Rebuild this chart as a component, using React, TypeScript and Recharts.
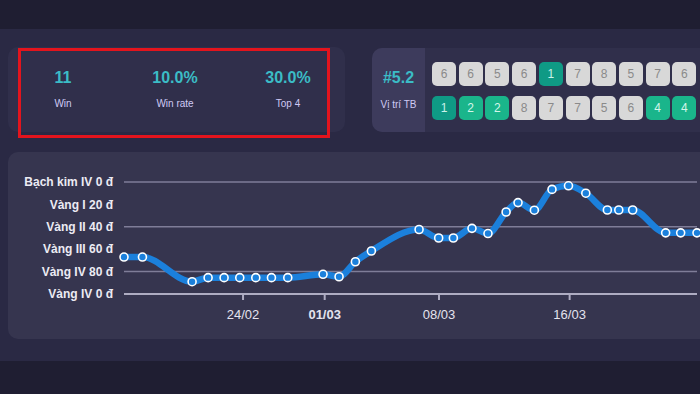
import { LineChart, Line, XAxis, YAxis, CartesianGrid } from 'recharts';

// tóm tắt
const statValues = ['11', '10.0%', '30.0%'];
const statLabels = ['Win', 'Win rate', 'Top 4'];
const avgPlace = '#5.2';
const avgPlaceLabel = 'Vị trí TB';
const placementsRow1 = [6, 6, 5, 6, 1, 7, 8, 5, 7, 6];
const placementsRow2 = [1, 2, 2, 8, 7, 7, 5, 6, 4, 4];

// lịch sử rank: ngày tính từ 24/02, giá trị = bậc trên trục y
const matchDays = [
  -7.29, -6.16, -3.12, -2.14, -1.16, -0.2, 0.78, 1.74, 2.74, 4.9,
  5.88, 6.88, 7.86, 10.78, 11.98, 12.88, 14.02, 15.0, 16.11, 16.84,
  17.84, 18.92, 19.93, 20.99, 22.31, 23.01, 23.86, 25.88, 26.8, 27.8,
];
const tierValues = [
  1.65, 1.65, 0.55, 0.73, 0.73, 0.73, 0.73, 0.73, 0.73, 0.88,
  0.77, 1.44, 1.92, 2.88, 2.5, 2.5, 2.93, 2.7, 3.66, 4.08,
  3.74, 4.67, 4.83, 4.5, 3.75, 3.75, 3.75, 2.73, 2.73, 2.73,
];
const yTickValues = [0, 1, 2, 3, 4, 5];
const yTickLabels = ['Vàng IV 0 đ', 'Vàng IV 80 đ', 'Vàng III 60 đ', 'Vàng II 40 đ', 'Vàng I 20 đ', 'Bạch kim IV 0 đ'];
const xTickDays = [0, 5, 12, 20];
const xTickLabels = ['24/02', '01/03', '08/03', '16/03'];
const monthStartTicks = ['01/03'];

const data = matchDays.map((day, i) => ({ day, tier: tierValues[i] }));

const TEAL = '#3bbcc6';
const LINE_BLUE = '#1b80dc';

const boxColor = (p: number) => {
  if (p === 1) return { bg: '#0f9a85', fg: '#c9f2ea' };
  if (p <= 4) return { bg: '#1ab58b', fg: '#d4f5ea' };
  return { bg: '#d8d8d8', fg: '#8a8a8a' };
};

const XTick = (props: any) => {
  const { x, y, payload } = props;
  const label = xTickLabels[xTickDays.indexOf(payload.value)] ?? '';
  return (
    <text
      x={x}
      y={y}
      dy="0.71em"
      textAnchor="middle"
      fill="#e4e3ee"
      fontSize={13}
      fontWeight={monthStartTicks.includes(label) ? 700 : 400}
    >
      {label}
    </text>
  );
};

const PlacementRow = ({ row, top }: { row: number[]; top: number }) => (
  <>
    {row.map((p, i) => {
      const c = boxColor(p);
      return (
        <div
          key={i}
          style={{
            position: 'absolute',
            left: 432 + i * 26.7,
            top,
            width: 24,
            height: 24,
            borderRadius: 5,
            background: c.bg,
            color: c.fg,
            fontSize: 12,
            lineHeight: '24px',
            textAlign: 'center',
          }}
        >
          {p}
        </div>
      );
    })}
  </>
);

const App = () => {
  const statCenters = [63, 175, 288];
  return (
    <div
      style={{
        position: 'fixed',
        left: 0,
        top: 0,
        width: 700,
        height: 394,
        overflow: 'hidden',
        background: '#2a2944',
        fontFamily: '"Liberation Sans", Arial, sans-serif',
      }}
    >
      {/* dải trên / dưới */}
      <div style={{ position: 'absolute', left: 0, top: 0, width: 700, height: 29, background: '#1f1e32' }} />
      <div style={{ position: 'absolute', left: 0, top: 361, width: 700, height: 33, background: '#1f1e32' }} />

      {/* thẻ thống kê */}
      <div style={{ position: 'absolute', left: 8, top: 47, width: 337, height: 85, borderRadius: 10, background: '#302f4b' }} />
      {statValues.map((v, i) => (
        <div key={v} style={{ position: 'absolute', left: statCenters[i] - 50, width: 100, textAlign: 'center', top: 0 }}>
          <div style={{ position: 'absolute', top: 69, width: 100, color: TEAL, fontSize: 16, fontWeight: 700 }}>{v}</div>
          <div style={{ position: 'absolute', top: 98, width: 100, color: '#cfcaf5', fontSize: 10 }}>{statLabels[i]}</div>
        </div>
      ))}
      <div
        style={{
          position: 'absolute',
          left: 18,
          top: 48,
          width: 306,
          height: 84,
          border: '3px solid #e3141d',
        }}
      />

      {/* vị trí trung bình */}
      <div style={{ position: 'absolute', left: 372, top: 48, width: 340, height: 84, borderRadius: 10, background: '#302f4b' }} />
      <div style={{ position: 'absolute', left: 372, top: 48, width: 53, height: 84, borderRadius: '10px 0 0 10px', background: '#3d3b5c' }} />
      <div style={{ position: 'absolute', left: 372, top: 69, width: 53, textAlign: 'center', color: TEAL, fontSize: 16, fontWeight: 700 }}>
        {avgPlace}
      </div>
      <div style={{ position: 'absolute', left: 370, top: 99, width: 57, textAlign: 'center', color: '#cfcaf5', fontSize: 10 }}>
        {avgPlaceLabel}
      </div>
      <PlacementRow row={placementsRow1} top={62} />
      <PlacementRow row={placementsRow2} top={96} />

      {/* biểu đồ */}
      <div style={{ position: 'absolute', left: 8, top: 152, width: 712, height: 187, borderRadius: 10, background: '#36354f' }} />
      <div style={{ position: 'absolute', left: 0, top: 160 }}>
        <LineChart width={700} height={174} data={data} margin={{ top: 22, right: 3, bottom: 0, left: 0 }}>
          <CartesianGrid vertical={false} stroke="#7f7d98" strokeWidth={1.5} />
          <XAxis
            type="number"
            dataKey="day"
            domain={['dataMin', 'dataMax']}
            ticks={xTickDays}
            tick={<XTick />}
            tickSize={6}
            tickMargin={10}
            height={40}
            axisLine={{ stroke: '#aeacc2', strokeWidth: 2 }}
            tickLine={{ stroke: '#aeacc2', strokeWidth: 2 }}
          />
          <YAxis
            type="number"
            domain={[0, 5]}
            ticks={yTickValues}
            tickFormatter={(v: number) => yTickLabels[v]}
            width={124}
            tickSize={0}
            tickMargin={11}
            axisLine={false}
            tickLine={false}
            tick={{ fill: '#ecebf3', fontSize: 12, fontWeight: 700 }}
          />
          <Line
            type="monotone"
            dataKey="tier"
            stroke={LINE_BLUE}
            strokeWidth={6.5}
            dot={{ r: 4, fill: LINE_BLUE, stroke: '#ffffff', strokeWidth: 1.6 }}
            isAnimationActive={false}
          />
        </LineChart>
      </div>
    </div>
  );
};

export default App;
